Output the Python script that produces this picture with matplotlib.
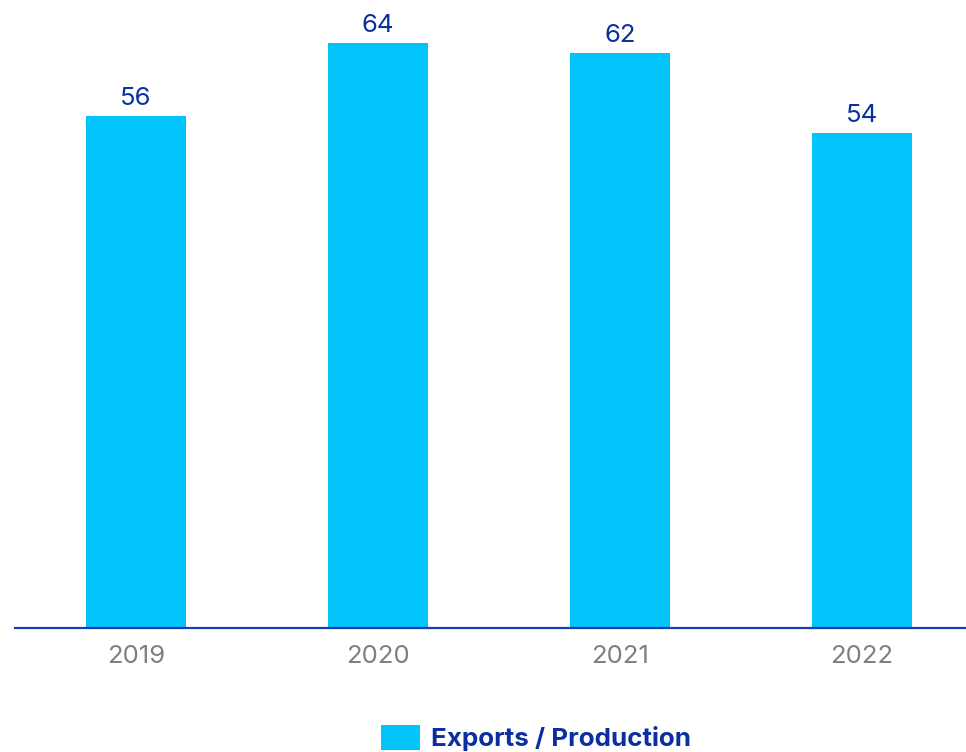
import matplotlib.pyplot as plt
from matplotlib.patches import Patch

# data
years = ["2019", "2020", "2021", "2022"]
ratio = [56.0, 64.0, 62.9, 54.2]
labels = ["56", "64", "62", "54"]

bar_color = "#03C4FA"
text_blue = "#0A2FA0"

plt.rcParams['font.family'] = ['Inter', 'DejaVu Sans']

fig = plt.figure(figsize=(9.66, 7.52), dpi=100)
ax = fig.add_axes([15 / 966, 124 / 752, 951 / 966, 628 / 752])

x = range(len(years))
bars = ax.bar(x, ratio, width=0.413, color=bar_color, zorder=2)

for b, v, lab in zip(bars, ratio, labels):
    ax.text(b.get_x() + b.get_width() / 2, v + 0.65, lab, ha="center", va="bottom",
            fontsize=18.5, color=text_blue)

ax.set_xlim(-0.5, 3.43)
ax.set_ylim(0, 68.7)
ax.set_xticks(list(x))
ax.set_xticklabels(years, fontsize=18.5, color="#808080")
ax.tick_params(axis="x", length=0, pad=12)
ax.set_yticks([])

for s in ["top", "right", "left"]:
    ax.spines[s].set_visible(False)
ax.spines["bottom"].set_color("#1A3DB0")
ax.spines["bottom"].set_linewidth(1.6)

handle = Patch(facecolor=bar_color, edgecolor="none", label="Exports / Production")
leg = fig.legend(handles=[handle], loc="lower center", bbox_to_anchor=(0.555, -0.03),
                 frameon=False, handlelength=1.5, handleheight=1.1, handletextpad=0.45,
                 prop={"size": 18.7, "weight": "bold"})
for t in leg.get_texts():
    t.set_color(text_blue)

fig.savefig("out.png", dpi=100)
